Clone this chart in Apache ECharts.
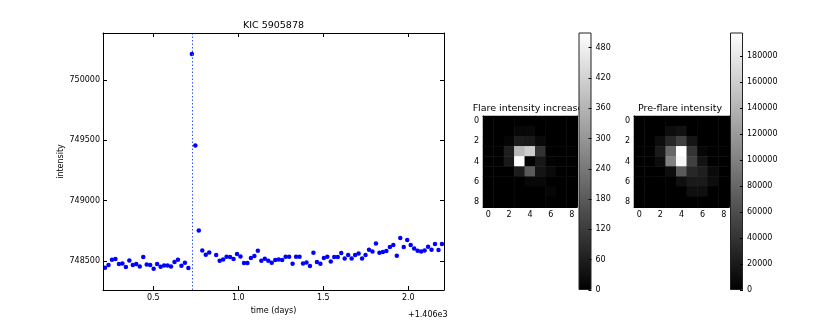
<!DOCTYPE html>
<html>
<head>
<meta charset="utf-8">
<script src="https://cdn.jsdelivr.net/npm/echarts@6/dist/echarts.min.js"></script>
<style>
html, body { margin: 0; padding: 0; background: #fff; }
#chart { width: 830px; height: 332px; }
</style>
</head>
<body>
<div id="chart"></div>
<script>
// time (days) - 1406, one point per long cadence, one cadence missing after the flare
var times = [
  0.2159, 0.2363, 0.2568, 0.2772, 0.2976, 0.3181, 0.3385, 0.3589, 0.3794, 0.3998,
  0.4202, 0.4407, 0.4611, 0.4815, 0.5020, 0.5224, 0.5428, 0.5633, 0.5837, 0.6041,
  0.6246, 0.6450, 0.6654, 0.6859, 0.7063, 0.7268, 0.7472, 0.7676, 0.7881, 0.8085,
  0.8289, 0.8698, 0.8902, 0.9107, 0.9311, 0.9515, 0.9720, 0.9924, 1.0128, 1.0333,
  1.0537, 1.0741, 1.0946, 1.1150, 1.1354, 1.1559, 1.1763, 1.1967, 1.2172, 1.2376,
  1.2580, 1.2785, 1.2989, 1.3193, 1.3398, 1.3602, 1.3806, 1.4011, 1.4215, 1.4419,
  1.4624, 1.4828, 1.5032, 1.5237, 1.5441, 1.5645, 1.5850, 1.6054, 1.6258, 1.6463,
  1.6667, 1.6871, 1.7076, 1.7280, 1.7484, 1.7689, 1.7893, 1.8097, 1.8302, 1.8506,
  1.8710, 1.8915, 1.9119, 1.9323, 1.9528, 1.9732, 1.9936, 2.0141, 2.0345, 2.0549,
  2.0754, 2.0958, 2.1162, 2.1367, 2.1571, 2.1775, 2.1980
];
var intensity = [
  748444, 748467, 748511, 748517, 748475, 748480, 748450, 748505, 748467, 748475,
  748455, 748533, 748472, 748467, 748436, 748475, 748453, 748464, 748464, 748455,
  748492, 748511, 748461, 748486, 748442, 750215, 749458, 748754, 748588, 748552,
  748571, 748550, 748502, 748513, 748536, 748533, 748517, 748558, 748538, 748483,
  748483, 748525, 748541, 748585, 748502, 748519, 748502, 748486, 748508, 748513,
  748508, 748536, 748536, 748478, 748536, 748536, 748480, 748488, 748459, 748569,
  748492, 748478, 748525, 748536, 748497, 748533, 748533, 748566, 748522, 748550,
  748522, 748550, 748563, 748522, 748550, 748594, 748580, 748646, 748569, 748575,
  748583, 748616, 748633, 748544, 748691, 748616, 748674, 748633, 748604, 748585,
  748580, 748588, 748619, 748594, 748641, 748591, 748641
];
var flareTime = 0.729;
var timeTicks = [0.5, 1.0, 1.5, 2.0];
var intensityTicks = [748500, 749000, 749500, 750000];

var pixelLabels = ['0', '1', '2', '3', '4', '5', '6', '7', '8'];
var flareIncrease = [
  [0, 0, 0, 0, 0, 0, 0, 0, 0],
  [0, 0, 0, 14, 16, 0, 0, 0, 0],
  [0, 0, 10, 55, 50, 18, 0, 0, 0],
  [0, 0, 60, 370, 410, 100, 0, 0, 0],
  [0, 0, 50, 510, 0, 45, 6, 0, 0],
  [0, 0, 0, 55, 180, 40, 20, 0, 0],
  [0, 0, 0, 0, 14, 14, 0, 0, 0],
  [0, 0, 0, 0, 0, 0, 12, 0, 0],
  [0, 0, 0, 0, 0, 0, 0, 0, 0]
];
var preFlare = [
  [0, 0, 0, 0, 0, 0, 0, 0, 0],
  [0, 0, 0, 10000, 14000, 0, 0, 0, 0],
  [0, 0, 10000, 30000, 50000, 16000, 0, 0, 0],
  [0, 0, 20000, 80000, 198000, 40000, 5000, 0, 0],
  [0, 0, 10000, 100000, 192000, 50000, 14000, 0, 0],
  [0, 0, 0, 10000, 70000, 30000, 24000, 8000, 0],
  [0, 0, 0, 0, 12000, 20000, 20000, 10000, 0],
  [0, 0, 0, 0, 0, 12000, 12000, 0, 0],
  [0, 0, 0, 0, 0, 0, 0, 0, 0]
];
var increaseTicks = [0, 60, 120, 180, 240, 300, 360, 420, 480];
var increaseMax = 510;
var preFlareTicks = [0, 20000, 40000, 60000, 80000, 100000, 120000, 140000, 160000, 180000];
var preFlareMax = 198000;

var font = 'DejaVu Sans';
var black = '#000';

function toCells(img) {
  var out = [];
  for (var r = 0; r < img.length; r++) {
    for (var c = 0; c < img[r].length; c++) {
      out.push([c, r, img[r][c]]);
    }
  }
  return out;
}

function label(extra) {
  var o = { color: black, fontFamily: font, fontSize: 8 };
  for (var k in extra) o[k] = extra[k];
  return o;
}

function valueAxis(grid, pos, min, max, ticks, showLabel) {
  return {
    gridIndex: grid, type: 'value', position: pos, min: min, max: max, z: 5,
    axisLine: { show: true, onZero: false, lineStyle: { color: black, width: 1 } },
    axisTick: { show: true, inside: true, length: 4, customValues: ticks, lineStyle: { color: black } },
    axisLabel: showLabel ? label({ customValues: ticks, margin: 4 }) : { show: false },
    splitLine: { show: false }
  };
}

function pixelAxis(grid, pos, vertical, showLabel) {
  return {
    gridIndex: grid, type: 'category', position: pos, data: pixelLabels, z: 5,
    inverse: vertical,
    axisLine: { show: true, lineStyle: { color: black, width: 1 } },
    axisTick: { show: true, inside: true, length: 3, alignWithLabel: true, interval: 1, lineStyle: { color: black } },
    axisLabel: showLabel ? label({ interval: 1, margin: 4 }) : { show: false },
    splitLine: { show: false }, splitArea: { show: false }
  };
}

function barAxisX(grid) {
  return { gridIndex: grid, type: 'category', data: [''], show: false };
}

function barAxisY(grid, max, ticks) {
  return {
    gridIndex: grid, type: 'value', position: 'right', min: 0, max: max, z: 12,
    axisLine: { show: false },
    axisTick: { show: true, inside: true, length: 3, customValues: ticks, lineStyle: { color: black } },
    axisLabel: label({ customValues: ticks, margin: 4, formatter: function (v) { return String(v); } }),
    splitLine: { show: false }
  };
}

function colorbar(xi, yi, max) {
  return {
    type: 'bar', xAxisIndex: xi, yAxisIndex: yi, barWidth: '100%', z: 10,
    silent: true, data: [max],
    itemStyle: {
      borderColor: '#222', borderWidth: 1,
      color: new echarts.graphic.LinearGradient(0, 0, 0, 1, [
        { offset: 0, color: '#ffffff' }, { offset: 1, color: '#000000' }
      ])
    }
  };
}

var chart = echarts.init(document.getElementById('chart'));

var xMain = valueAxis(0, 'bottom', 0.204, 2.21, timeTicks, true);
xMain.axisLabel.formatter = function (v) { return v.toFixed(1); };
xMain.name = 'time (days)';
xMain.nameLocation = 'middle';
xMain.nameGap = 17;
xMain.nameTextStyle = label({});

var yMain = valueAxis(0, 'left', 748260, 750390, intensityTicks, true);
yMain.axisLabel.formatter = function (v) { return String(v); };
yMain.axisLabel.margin = 3;
yMain.name = 'intensity';
yMain.nameLocation = 'middle';
yMain.nameGap = 38;
yMain.nameTextStyle = label({});

var option = {
  animation: false,
  backgroundColor: '#fff',
  title: [
    { text: 'KIC 5905878', left: 273.5, top: 21, textAlign: 'center', padding: 0,
      textStyle: { fontSize: 9.5, fontWeight: 'normal', color: black, fontFamily: font } },
    { text: 'Flare intensity increase', left: 528, top: 104, textAlign: 'center', padding: 0, z: 1,
      textStyle: { fontSize: 9.5, fontWeight: 'normal', color: black, fontFamily: font } },
    { text: 'Pre-flare intensity', left: 680, top: 104, textAlign: 'center', padding: 0, z: 1,
      textStyle: { fontSize: 9.5, fontWeight: 'normal', color: black, fontFamily: font } }
  ],
  graphic: [
    { type: 'text', left: 408, top: 311,
      style: { text: '+1.406e3', fill: black, font: '8px "DejaVu Sans"' } }
  ],
  grid: [
    { left: 103, top: 33, width: 341, height: 257 },
    { left: 483, top: 116, width: 94, height: 91 },
    { left: 578.5, top: 32.5, width: 13, height: 257.5 },
    { left: 634, top: 116, width: 95, height: 91 },
    { left: 730, top: 32.5, width: 13, height: 257.5 }
  ],
  xAxis: [
    xMain,
    valueAxis(0, 'top', 0.204, 2.21, timeTicks, false),
    pixelAxis(1, 'bottom', false, true),
    pixelAxis(1, 'top', false, false),
    barAxisX(2),
    pixelAxis(3, 'bottom', false, true),
    pixelAxis(3, 'top', false, false),
    barAxisX(4)
  ],
  yAxis: [
    yMain,
    valueAxis(0, 'right', 748260, 750390, intensityTicks, false),
    pixelAxis(1, 'left', true, true),
    pixelAxis(1, 'right', true, false),
    barAxisY(2, increaseMax, increaseTicks),
    pixelAxis(3, 'left', true, true),
    pixelAxis(3, 'right', true, false),
    barAxisY(4, preFlareMax, preFlareTicks)
  ],
  visualMap: [
    { type: 'continuous', show: false, seriesIndex: 1, min: 0, max: increaseMax,
      inRange: { color: ['#000000', '#ffffff'] } },
    { type: 'continuous', show: false, seriesIndex: 3, min: 0, max: preFlareMax,
      inRange: { color: ['#000000', '#ffffff'] } }
  ],
  series: [
    {
      type: 'scatter', xAxisIndex: 0, yAxisIndex: 0, symbolSize: 4.5,
      itemStyle: { color: '#0000ff', opacity: 1 },
      data: times.map(function (t, i) { return [t, intensity[i]]; }),
      markLine: {
        silent: true, symbol: 'none', precision: 4,
        label: { show: false },
        lineStyle: { color: '#3355ff', type: [1.5, 2], width: 1, opacity: 1 },
        emphasis: { disabled: true },
        data: [{ xAxis: flareTime }]
      }
    },
    { type: 'heatmap', xAxisIndex: 2, yAxisIndex: 2, data: toCells(flareIncrease), silent: true },
    colorbar(4, 4, increaseMax),
    { type: 'heatmap', xAxisIndex: 5, yAxisIndex: 5, data: toCells(preFlare), silent: true },
    colorbar(7, 7, preFlareMax)
  ]
};

chart.setOption(option);
window.addEventListener('resize', chart.resize);
</script>
</body>
</html>
